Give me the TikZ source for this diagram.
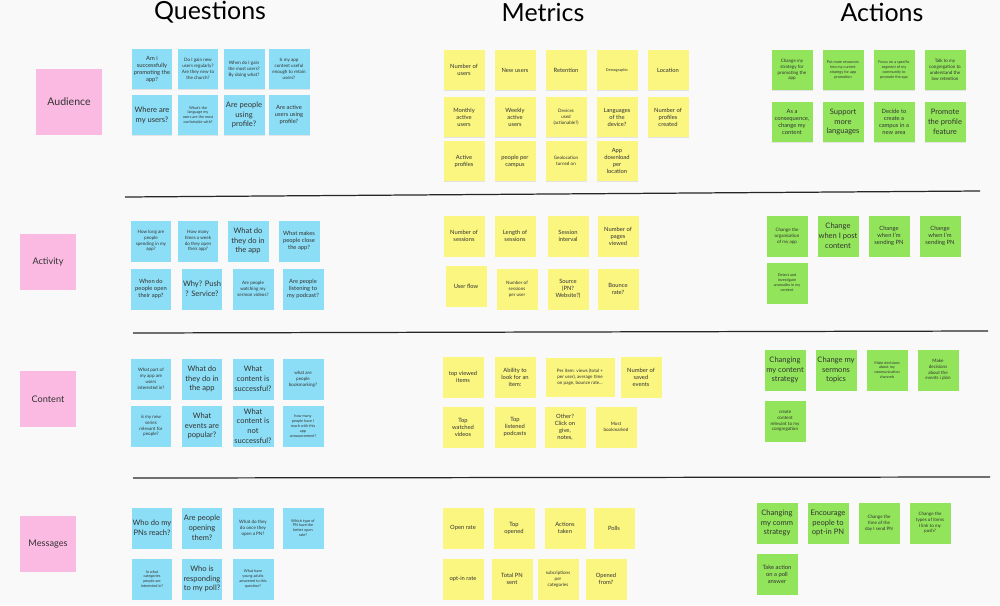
\documentclass[tikz,border=0pt]{standalone}
\usepackage{fontspec}
\setmainfont{Lato}
\usepackage{tikz}
\usetikzlibrary{shadows}
\definecolor{boardBg}{RGB}{249,249,249}
\definecolor{qBlue}{RGB}{140,222,246}
\definecolor{mYellow}{RGB}{250,246,128}
\definecolor{aGreen}{RGB}{146,229,90}
\definecolor{rPink}{RGB}{250,186,226}
\definecolor{noteText}{RGB}{50,50,50}
\tikzset{
  note/.style={rectangle, minimum size=0.82cm, inner sep=0pt, align=center, text=noteText,
    drop shadow={opacity=0.18, shadow xshift=0pt, shadow yshift=-0.5pt}},
  qnote/.style={note, fill=qBlue},
  mnote/.style={note, fill=mYellow},
  anote/.style={note, fill=aGreen},
  rowlabel/.style={rectangle, fill=rPink, minimum size=1.12cm, inner sep=0pt, text=noteText,
    font=\fontsize{5.2}{6}\selectfont},
  coltitle/.style={text=black, font=\fontsize{14.2}{17}\selectfont},
  txtL/.style={font=\fontsize{4.3}{5.6}\selectfont},
  txtM/.style={font=\fontsize{3.3}{4}\selectfont},
  txtS/.style={font=\fontsize{2.6}{3.3}\selectfont},
  txtXS/.style={font=\fontsize{2.15}{2.8}\selectfont}
}
\begin{document}
\begin{tikzpicture}[x=0.02cm, y=-0.02cm]
  \useasboundingbox (0,0) rectangle (1000,605);
  \fill [boardBg] (0,0) rectangle (1000,605);

  % column titles
  \node [coltitle] (tQuestions) at (210,12) {Questions};
  \node [coltitle] (tMetrics) at (543,12) {Metrics};
  \node [coltitle] (tActions) at (882,12) {Actions};

  % row labels
  \node [rowlabel, minimum size=1.34cm, font=\fontsize{6}{7}\selectfont] (rAudience) at (69,102) {Audience};
  \node [rowlabel] (rActivity) at (48,262) {Activity};
  \node [rowlabel] (rContent) at (48,399) {Content};
  \node [rowlabel] (rMessages) at (48,544) {Messages};

  % separators
  \draw [line width=0.7pt, black!85] (125,197) -- (980,191);
  \draw [line width=0.7pt, black!85] (133,333) -- (988,331);
  \draw [line width=0.7pt, black!85] (133,478) -- (990,477);

  % Audience
  \node [qnote, txtM] (qAud1) at (152,69) {Am i\\successfully\\promoting the\\app?};
  \node [qnote, txtS] (qAud2) at (198,69) {Do I gain new\\users regularly?\\Are they new to\\the church?};
  \node [qnote, txtS] (qAud3) at (244,69) {When do I gain\\the most users?\\By doing what?};
  \node [qnote, txtS] (qAud4) at (289,69) {Is my app\\content useful\\enough to retain\\users?};
  \node [qnote, txtL] (qAud5) at (152,115) {Where are\\my users?};
  \node [qnote, txtXS] (qAud6) at (198,115) {What's the\\language my\\users are the most\\confortable with?};
  \node [qnote, txtL] (qAud7) at (244,115) {Are people\\using\\profile?};
  \node [qnote, txtM] (qAud8) at (289,115) {Are active\\users using\\profile?};

  \node [mnote, txtM] (mAud1) at (464,70) {Number of\\users};
  \node [mnote, txtM] (mAud2) at (515,70) {New users};
  \node [mnote, txtM] (mAud3) at (566,70) {Retention};
  \node [mnote, txtXS] (mAud4) at (617,70) {Demographic};
  \node [mnote, txtM] (mAud5) at (668,70) {Location};
  \node [mnote, txtM] (mAud6) at (464,117) {Monthly\\active\\users};
  \node [mnote, txtM] (mAud7) at (515,117) {Weekly\\active\\users};
  \node [mnote, txtS] (mAud8) at (566,117) {Devices\\used\\(actionable?)};
  \node [mnote, txtM] (mAud9) at (617,117) {Languages\\of the\\device?};
  \node [mnote, txtM] (mAud10) at (668,117) {Number of\\profiles\\created};
  \node [mnote, txtM] (mAud11) at (464,161) {Active\\profiles};
  \node [mnote, txtM] (mAud12) at (515,161) {people per\\campus};
  \node [mnote, txtS] (mAud13) at (566,161) {Geolocation\\turned on};
  \node [mnote, txtM] (mAud14) at (617,161) {App\\download\\per\\location};

  \node [anote, txtS] (aAud1) at (792,70) {Change my\\strategy for\\promoting the\\app};
  \node [anote, txtXS] (aAud2) at (843,70) {Put more resources\\into my current\\strategy for app\\promotion};
  \node [anote, txtXS] (aAud3) at (894,70) {Focus on a specific\\segment of my\\community to\\promote the app};
  \node [anote, txtS] (aAud4) at (945,70) {Talk to my\\congregation to\\understand the\\low retention};
  \node [anote, txtM] (aAud5) at (792,122) {As a\\consequence,\\change my\\content};
  \node [anote, txtL] (aAud6) at (843,122) {Support\\more\\languages};
  \node [anote, txtM] (aAud7) at (894,122) {Decide to\\create a\\campus in a\\new area};
  \node [anote, txtL] (aAud8) at (945,122) {Promote\\the profile\\feature};

  % Activity
  \node [qnote, txtS] (qAct1) at (151,241) {How long are\\people\\spending in my\\app?};
  \node [qnote, txtS] (qAct2) at (198,241) {How many\\times a week\\do they open\\their app?};
  \node [qnote, txtL] (qAct3) at (248,241) {What do\\they do in\\the app};
  \node [qnote, txtM] (qAct4) at (299,241) {What makes\\people close\\the app?};
  \node [qnote, txtM] (qAct5) at (151,289) {When do\\people open\\their app?};
  \node [qnote, txtL] (qAct6) at (202,289) {Why? Push\\? Service?};
  \node [qnote, txtS] (qAct7) at (253,289) {Are people\\watching my\\sermon videos?};
  \node [qnote, txtM] (qAct8) at (303,289) {Are people\\listening to\\my podcast?};

  \node [mnote, txtM] (mAct1) at (464,236) {Number of\\sessions};
  \node [mnote, txtM] (mAct2) at (515,236) {Length of\\sessions};
  \node [mnote, txtM] (mAct3) at (568,236) {Session\\interval};
  \node [mnote, txtM] (mAct4) at (618,236) {Number of\\pages\\viewed};
  \node [mnote, txtM] (mAct5) at (466,286) {User flow};
  \node [mnote, txtS] (mAct6) at (517,289) {Number of\\sessions\\per user};
  \node [mnote, txtM] (mAct7) at (568,289) {Source\\(PN?\\Website?)};
  \node [mnote, txtM] (mAct8) at (618,289) {Bounce\\rate?};

  \node [anote, txtS] (aAct1) at (787,236) {Change the\\organisation\\of my app};
  \node [anote, txtL] (aAct2) at (838,236) {Change\\when I post\\content};
  \node [anote, txtM] (aAct3) at (889,236) {Change\\when I'm\\sending PN};
  \node [anote, txtM] (aAct4) at (940,236) {Change\\when I'm\\sending PN};
  \node [anote, txtXS] (aAct5) at (787,283) {Detect and\\investigate\\anomalies in my\\content};

  % Content
  \node [qnote, txtS] (qCon1) at (151,379) {What part of\\my app are\\users\\interested in?};
  \node [qnote, txtL] (qCon2) at (202,379) {What do\\they do in\\the app};
  \node [qnote, txtL] (qCon3) at (253,379) {What\\content is\\successful?};
  \node [qnote, txtS] (qCon4) at (303,379) {what are\\people\\bookmarking?};
  \node [qnote, txtS] (qCon5) at (151,426) {is my new\\series\\relevant for\\people?};
  \node [qnote, txtL] (qCon6) at (202,426) {What\\events are\\popular?};
  \node [qnote, txtL] (qCon7) at (253,426) {What\\content is\\not\\successful?};
  \node [qnote, txtXS] (qCon8) at (303,426) {how many\\people have I\\reach with this\\app\\announcement?};

  \node [mnote, txtM] (mCon1) at (463,377) {top viewed\\items};
  \node [mnote, txtM] (mCon2) at (515,377) {Ability to\\look for an\\item:};
  \node [mnote, txtS, minimum width=1.38cm, minimum height=0.78cm] (mCon3) at (580,377) {Per item: views (total +\\per user), average time\\on page, bounce rate...};
  \node [mnote, txtM] (mCon4) at (641,377) {Number of\\saved\\events};
  \node [mnote, txtM] (mCon5) at (463,427) {Top\\watched\\videos};
  \node [mnote, txtM] (mCon6) at (515,427) {Top\\listened\\podcasts};
  \node [mnote, txtM] (mCon7) at (565,427) {Other?\\Click on\\give,\\notes,};
  \node [mnote, txtS] (mCon8) at (616,427) {Most\\bookmarked};

  \node [anote, txtL] (aCon1) at (785,370) {Changing\\my content\\strategy};
  \node [anote, txtL] (aCon2) at (836,370) {Change my\\sermons\\topics};
  \node [anote, txtXS] (aCon3) at (887,370) {Make decisions\\about my\\communication\\channels};
  \node [anote, txtS] (aCon4) at (938,370) {Make\\decisions\\about the\\events i plan};
  \node [anote, txtS] (aCon5) at (785,421) {create\\content\\relevant to my\\congregation};

  % Messages
  \node [qnote, txtL] (qMes1) at (152,528) {Who do my\\PNs reach?};
  \node [qnote, txtL] (qMes2) at (202,528) {Are people\\opening\\them?};
  \node [qnote, txtS] (qMes3) at (253,528) {What do they\\do once they\\open a PN?};
  \node [qnote, txtXS] (qMes4) at (303,528) {Which type of\\PN have the\\better open\\rate?};
  \node [qnote, txtXS] (qMes5) at (152,579) {In what\\categories\\people are\\interested in?};
  \node [qnote, txtL] (qMes6) at (202,579) {Who is\\responding\\to my poll?};
  \node [qnote, txtXS] (qMes7) at (253,579) {What have\\young adults\\answered to this\\question?};

  \node [mnote, txtM] (mMes1) at (463,528) {Open rate};
  \node [mnote, txtM] (mMes2) at (514,528) {Top\\opened};
  \node [mnote, txtM] (mMes3) at (565,528) {Actions\\taken};
  \node [mnote, txtM] (mMes4) at (614,528) {Polls};
  \node [mnote, txtM] (mMes5) at (463,579) {opt-in rate};
  \node [mnote, txtM] (mMes6) at (512,579) {Total PN\\sent};
  \node [mnote, txtS] (mMes7) at (558,579) {subcriptions\\per\\categories};
  \node [mnote, txtM] (mMes8) at (606,579) {Opened\\from?};

  \node [anote, txtL] (aMes1) at (777,523) {Changing\\my comm\\strategy};
  \node [anote, txtL] (aMes2) at (828,523) {Encourage\\people to\\opt-in PN};
  \node [anote, txtS] (aMes3) at (879,523) {Change the\\time of the\\day I send PN};
  \node [anote, txtS] (aMes4) at (930,523) {Change the\\types of items\\I link to my\\push?};
  \node [anote, txtM] (aMes5) at (777,574) {Take action\\on a poll\\answer};
\end{tikzpicture}
\end{document}
